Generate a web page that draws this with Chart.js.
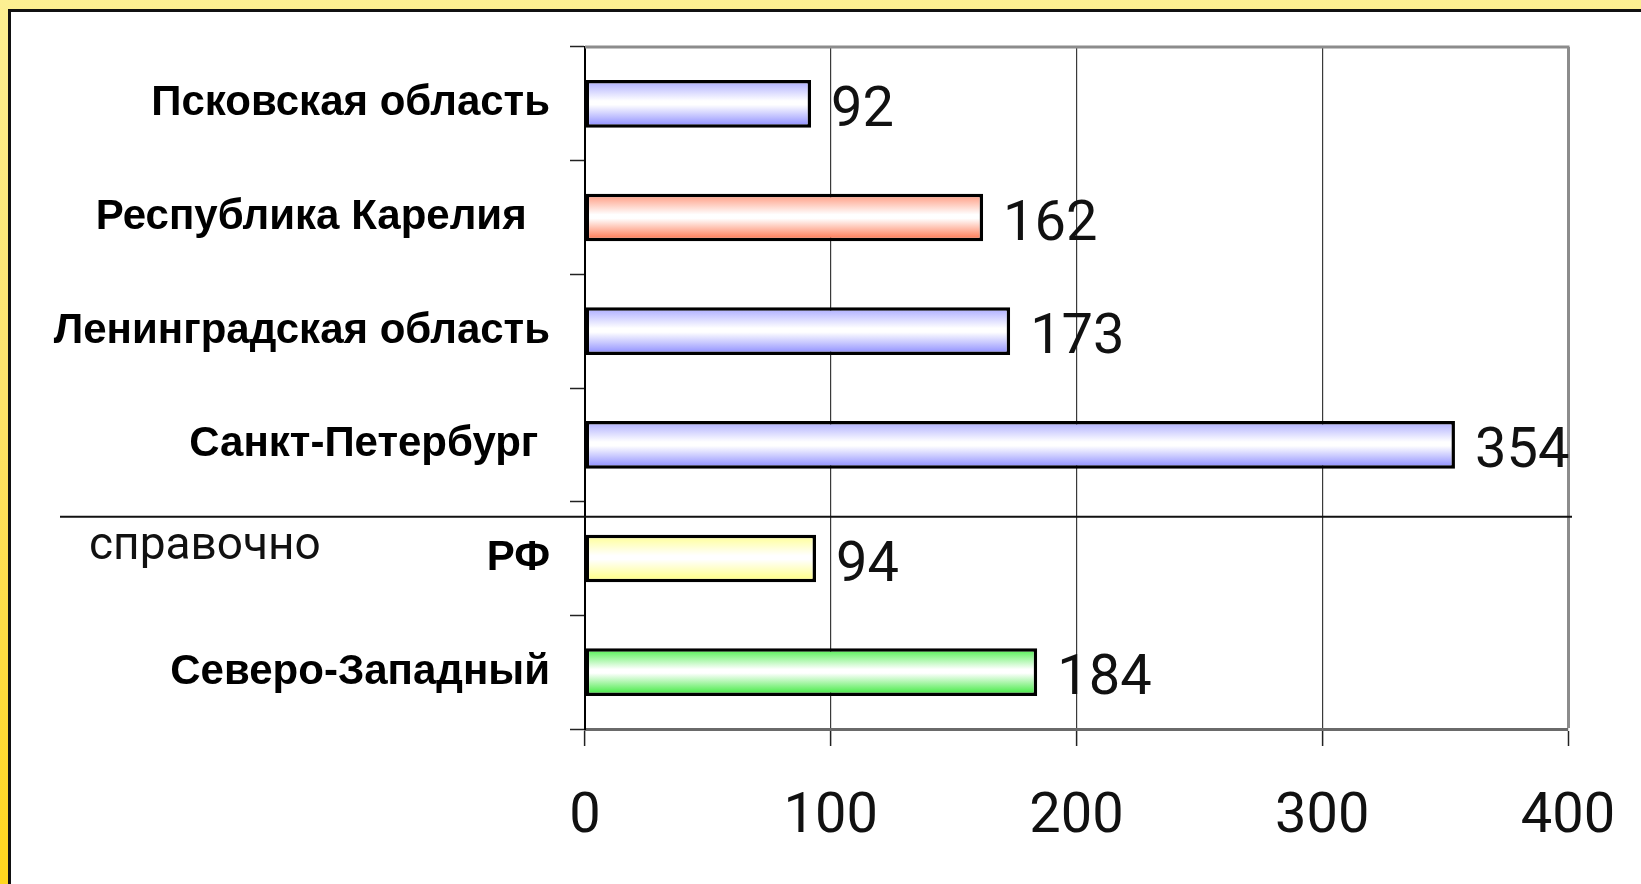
<!DOCTYPE html>
<html>
<head>
<meta charset="utf-8">
<script src="https://cdn.jsdelivr.net/npm/chart.js@4.4.1/dist/chart.umd.min.js"></script>
<style>
  html, body { margin: 0; padding: 0; }
  body {
    width: 1641px; height: 884px; overflow: hidden; position: relative;
    background: linear-gradient(to bottom, #fcef92 0%, #fde36a 45%, #ffd61e 100%);
  }
  #frame {
    position: absolute; left: 8px; top: 9px; right: -10px; bottom: -10px;
    background: #fff; border-left: 3px solid #111; border-top: 3px solid #111;
  }
  #wrap { position: absolute; left: 0; top: 0; width: 1641px; height: 884px; }
</style>
</head>
<body>
<div id="frame"></div>
<div id="wrap"><canvas id="regionChart" width="1641" height="884"></canvas></div>
<script>
// --- Data ---
const regions = [
  'Псковская область',
  'Республика Карелия  ',
  'Ленинградская область',
  'Санкт-Петербург ',
  'РФ',
  'Северо-Западный'
];
const values = [92, 162, 173, 354, 94, 184];
const xTicks = [0, 100, 200, 300, 400];

// gradient stops per bar: top edge, middle, bottom edge
const barShades = [
  ['#a8a8ff', '#ffffff', '#8686ff'],
  ['#ff9478', '#ffffff', '#ff6a40'],
  ['#a8a8ff', '#ffffff', '#8686ff'],
  ['#a8a8ff', '#ffffff', '#8686ff'],
  ['#ffff90', '#ffffff', '#ffff78'],
  ['#48ee48', '#ffffff', '#30e830']
];

const BAR_PCT = 0.42;

function barGradient(context) {
  const chart = context.chart;
  const i = context.dataIndex;
  const shades = barShades[i] || barShades[0];
  const yScale = chart.scales.y;
  if (!chart.chartArea || !yScale) return shades[2];
  const center = yScale.getPixelForValue(i);
  const h = (yScale.height / regions.length) * BAR_PCT;
  const g = chart.ctx.createLinearGradient(0, center - h / 2, 0, center + h / 2);
  g.addColorStop(0, shades[0]);
  g.addColorStop(0.44, shades[1]);
  g.addColorStop(0.52, shades[1]);
  g.addColorStop(1, shades[2]);
  return g;
}

// --- Extras: top border, separator line, "справочно", value labels ---
const extrasPlugin = {
  id: 'extras',
  afterDraw(chart) {
    const ctx = chart.ctx;
    const area = chart.chartArea;
    const yScale = chart.scales.y;
    ctx.save();

    // top border of the plot area
    ctx.strokeStyle = '#8c8c8c';
    ctx.lineWidth = 3;
    ctx.beginPath();
    ctx.moveTo(area.left, area.top);
    ctx.lineTo(area.right + 1.5, area.top);
    ctx.stroke();

    // separator between regions and the reference rows
    const step = yScale.height / regions.length;
    const sepY = area.top + step * 4 + 15;
    ctx.strokeStyle = '#111';
    ctx.lineWidth = 2;
    ctx.beginPath();
    ctx.moveTo(60, sepY);
    ctx.lineTo(area.right + 4, sepY);
    ctx.stroke();

    ctx.fillStyle = '#111';
    ctx.font = '46px Roboto';
    ctx.textAlign = 'left';
    ctx.textBaseline = 'middle';
    ctx.fillText('справочно', 89, sepY + 31);

    // value labels
    ctx.font = '56px Roboto';
    const meta = chart.getDatasetMeta(0);
    meta.data.forEach((bar, i) => {
      ctx.fillText(String(values[i]), bar.x + 20, bar.y + 8);
    });
    ctx.restore();
  }
};

const ctx = document.getElementById('regionChart').getContext('2d');
const regionChart = new Chart(ctx, {
  type: 'bar',
  data: {
    labels: regions,
    datasets: [{
      data: values,
      backgroundColor: barGradient,
      borderColor: '#000',
      borderWidth: 3.5,
      borderSkipped: false,
      barPercentage: BAR_PCT,
      categoryPercentage: 1
    }]
  },
  options: {
    indexAxis: 'y',
    responsive: false,
    animation: false,
    layout: { padding: { left: 0, top: 47, right: 73, bottom: 0 } },
    plugins: {
      legend: { display: false },
      tooltip: { enabled: false }
    },
    scales: {
      x: {
        min: 0,
        max: 400,
        afterBuildTicks: (scale) => {
          scale.ticks = xTicks.map(v => ({ value: v }));
        },
        afterFit: (scale) => {
          scale.height = 155;
          scale.paddingLeft = 0;
          scale.paddingRight = 0;
        },
        border: { color: '#6a6a6a', width: 3 },
        grid: {
          color: (c) => c.index === 0 ? '#000' : (c.index === xTicks.length - 1 ? '#8c8c8c' : '#3a3a3a'),
          lineWidth: (c) => c.index === xTicks.length - 1 ? 3 : 1.2,
          tickColor: '#222',
          tickWidth: 1.5,
          tickLength: 17
        },
        ticks: {
          color: '#111',
          font: { family: 'Roboto', size: 56 },
          padding: 38,
          maxRotation: 0
        }
      },
      y: {
        afterFit: (scale) => {
          scale.width = 585;
          scale.paddingTop = 0;
          scale.paddingBottom = 0;
        },
        border: { color: '#000', width: 2 },
        grid: {
          drawOnChartArea: false,
          tickColor: '#222',
          tickWidth: 1.5,
          tickLength: 15
        },
        ticks: {
          color: '#000',
          font: { family: 'Liberation Sans', size: 42, weight: 'bold' },
          padding: 20
        }
      }
    }
  },
  plugins: [extrasPlugin]
});
</script>
</body>
</html>
